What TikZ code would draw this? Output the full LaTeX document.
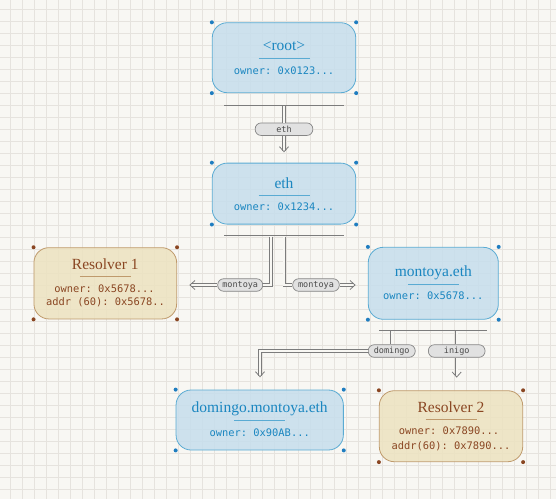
\documentclass[tikz,border=0pt]{standalone}
\usepackage{fontspec}
\setmainfont{Liberation Serif}
\setmonofont{DejaVu Sans Mono}
\usetikzlibrary{calc}
\definecolor{bg}{HTML}{F8F7F3}
\definecolor{gridc}{HTML}{E6E3DE}
\definecolor{bfill}{HTML}{C6DEED}
\definecolor{bline}{HTML}{5AABD3}
\definecolor{btext}{HTML}{1A86C0}
\definecolor{bdot}{HTML}{1F7DC0}
\definecolor{rfill}{HTML}{EDE2C0}
\definecolor{rline}{HTML}{BF9A6C}
\definecolor{rtext}{HTML}{8A4622}
\definecolor{rdot}{HTML}{8A4622}
\definecolor{pfill}{HTML}{E1E1E1}
\definecolor{pline}{HTML}{858585}
\definecolor{ptext}{HTML}{4A4A4A}
\definecolor{edge}{HTML}{7C7C7C}
\begin{document}
\begin{tikzpicture}[x=1pt,y=-1pt,
  box/.style={rounded corners=15pt, line width=0.8pt, inner sep=0pt, fill opacity=0.85},
  bluebox/.style={box, draw=bline, fill=bfill},
  resbox/.style={box, draw=rline, fill=rfill},
  ttl/.style={font=\fontsize{15.5}{18}\selectfont, inner sep=0pt},
  mono/.style={font=\ttfamily\fontsize{10.4}{12.5}\selectfont, inner sep=0pt},
  pill/.style={draw=pline, fill=pfill, line width=0.7pt, rounded corners=6pt, inner sep=0pt,
    minimum height=12.5pt, text=ptext, font=\ttfamily\fontsize{8.5}{9}\selectfont},
  bar/.style={draw=edge, line width=0.9pt},
  dbl/.style={draw=edge, line width=0.8pt, double=bg, double distance=1.9pt, line join=miter},
  chev/.style={draw=edge, line width=0.8pt, line join=miter},
]
\useasboundingbox (0,0) rectangle (556,499);
\fill[bg] (0,0) rectangle (556,499);
\foreach \i in {0,...,45} \draw[gridc, line width=0.6pt] (10+12*\i,0) -- (10+12*\i,499);
\foreach \j in {0,...,40} \draw[gridc, line width=0.6pt] (0,9.5+12*\j) -- (556,9.5+12*\j);

% ---------- boxes ----------
\node[bluebox, minimum width=143.5pt, minimum height=70pt] (root) at (284,57.7) {};
\node[bluebox, minimum width=143.5pt, minimum height=61pt] (eth) at (284,193.6) {};
\node[resbox, minimum width=142.7pt, minimum height=71.3pt] (res1) at (105.3,283.3) {};
\node[bluebox, minimum width=130pt, minimum height=72pt] (mon) at (433.3,283.3) {};
\node[bluebox, minimum width=167.3pt, minimum height=60pt] (dom) at (259.7,420) {};
\node[resbox, minimum width=143.4pt, minimum height=71pt] (res2) at (451,426.2) {};

\foreach \n in {root,eth,mon,dom}
  \foreach \a in {north west,north east,south west,south east}
    \fill[bdot] (\n.\a) circle (2pt);
\foreach \n in {res1,res2}
  \foreach \a in {north west,north east,south west,south east}
    \fill[rdot] (\n.\a) circle (2pt);

% ---------- texts ----------
\node[ttl, text=btext] (root-t) at (284,46) {\textless root\textgreater};
\draw[bline, line width=0.8pt] (258.5,58.3) -- (309.5,58.3);
\node[mono, text=btext] (root-o) at (284,71) {owner: 0x0123...};

\node[ttl, text=btext] (eth-t) at (284,183) {eth};
\draw[bline, line width=0.8pt] (258.5,195) -- (309.5,195);
\node[mono, text=btext] (eth-o) at (284,206.7) {owner: 0x1234...};

\node[ttl, text=rtext] (res1-t) at (105.3,264) {Resolver 1};
\draw[rline, line width=0.8pt] (79.8,276.7) -- (130.8,276.7);
\node[mono, text=rtext] (res1-o) at (104.5,289) {owner: 0x5678...};
\node[mono, text=rtext] (res1-a) at (105.5,302.7) {addr (60): 0x5678..};

\node[ttl, text=btext] (mon-t) at (433.3,272.3) {montoya.eth};
\draw[bline, line width=0.8pt] (407.8,284) -- (458.8,284);
\node[mono, text=btext] (mon-o) at (433.3,296) {owner: 0x5678...};

\node[ttl, text=btext] (dom-t) at (259.7,408.3) {domingo.montoya.eth};
\draw[bline, line width=0.8pt] (234.2,420) -- (285.2,420);
\node[mono, text=btext] (dom-o) at (259.7,432.3) {owner: 0x90AB...};

\node[ttl, text=rtext] (res2-t) at (451,407.3) {Resolver 2};
\draw[rline, line width=0.8pt] (425.5,419) -- (476.5,419);
\node[mono, text=rtext] (res2-o) at (449,431) {owner: 0x7890...};
\node[mono, text=rtext] (res2-a) at (451,446) {addr(60): 0x7890...};

% ---------- root -> eth ----------
\coordinate (rb-l) at (224,105);
\coordinate (rb-r) at (344,105);
\draw[bar] (rb-l) -- (rb-r);
\node[pill, minimum width=57.7pt] (p-eth) at (284,129.2) {eth};
\draw[dbl] (284,106) -- (p-eth.north);
\coordinate (t-eth) at (284,151.7);
\draw[dbl, shorten >=1.2pt] (p-eth.south) -- (t-eth);
\draw[chev] ([shift={(-4.5,-5)}]t-eth) -- (t-eth) -- ([shift={(4.5,-5)}]t-eth);

% ---------- eth -> res1 / montoya ----------
\coordinate (eb-l) at (224.3,235.7);
\coordinate (eb-r) at (344,235.7);
\draw[bar] (eb-l) -- (eb-r);
\node[pill, minimum width=45pt] (p-m1) at (240.2,285) {montoya};
\node[pill, minimum width=46.6pt] (p-m2) at (316,285) {montoya};
\draw[dbl] (271,236.6) -- (271,285) -- (p-m1.east);
\draw[dbl] (284.3,236.6) -- (284.3,285) -- (p-m2.west);
\coordinate (t-r1) at (190,285);
\coordinate (t-mon) at (355,285);
\draw[dbl, shorten >=1.2pt] (p-m1.west) -- (t-r1);
\draw[chev] ([shift={(5,-4.5)}]t-r1) -- (t-r1) -- ([shift={(5,4.5)}]t-r1);
\draw[dbl, shorten >=1.2pt] (p-m2.east) -- (t-mon);
\draw[chev] ([shift={(-5,-4.5)}]t-mon) -- (t-mon) -- ([shift={(-5,4.5)}]t-mon);

% ---------- montoya -> domingo / res2 ----------
\coordinate (mb-l) at (379,330);
\coordinate (mb-r) at (486.7,330);
\draw[bar] (mb-l) -- (mb-r);
\node[pill, minimum width=47pt] (p-dom) at (391.7,351) {domingo};
\node[pill, minimum width=56.7pt] (p-ini) at (456.7,351) {inigo};
\draw[dbl] (391.7,331) -- (p-dom.north);
\draw[dbl] (456.7,331) -- (p-ini.north);
\coordinate (t-dom) at (260,376.7);
\coordinate (t-r2) at (456.7,377);
\draw[dbl, shorten >=1.2pt] (p-dom.west) -- (260,351) -- (t-dom);
\draw[chev] ([shift={(-4.5,-5)}]t-dom) -- (t-dom) -- ([shift={(4.5,-5)}]t-dom);
\draw[dbl, shorten >=1.2pt] (p-ini.south) -- (t-r2);
\draw[chev] ([shift={(-4.5,-5)}]t-r2) -- (t-r2) -- ([shift={(4.5,-5)}]t-r2);
\end{tikzpicture}
\end{document}
